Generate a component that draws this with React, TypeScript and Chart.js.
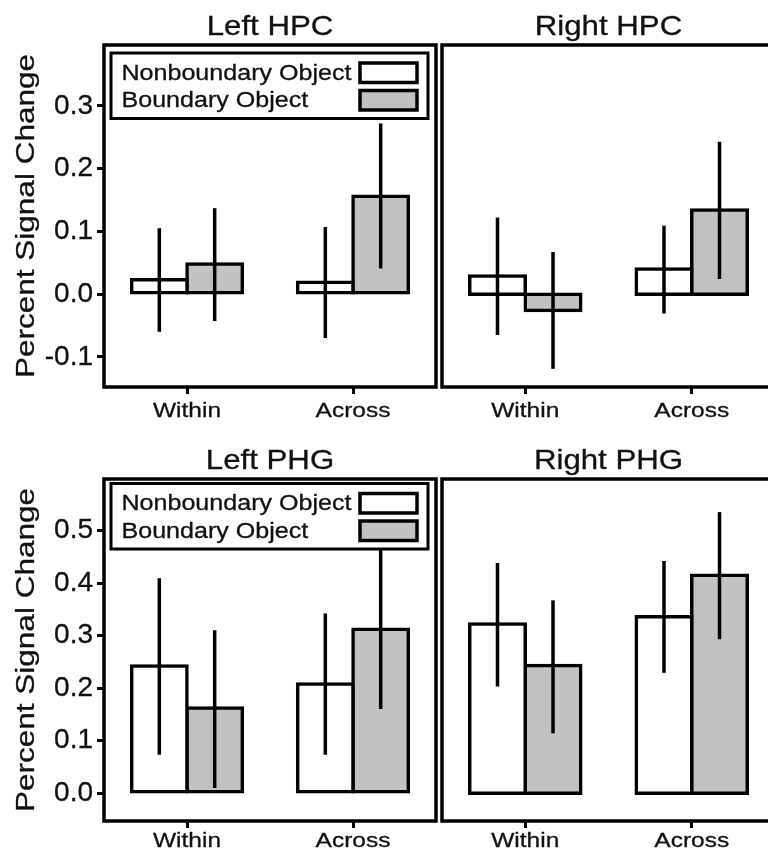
import React, { useEffect, useRef } from "react";
import { Chart, registerables } from "chart.js";

Chart.register(...registerables);

// ---------------- data ----------------
const categories = ["Within", "Across"];
const seriesNames = ["Nonboundary Object", "Boundary Object"];

const hpcTicks = [-0.1, 0.0, 0.1, 0.2, 0.3];
const phgTicks = [0.0, 0.1, 0.2, 0.3, 0.4, 0.5];

const leftHpcNon = [0.023, 0.019];
const leftHpcNonLo = [-0.06, -0.07];
const leftHpcNonHi = [0.105, 0.107];
const leftHpcBound = [0.048, 0.156];
const leftHpcBoundLo = [-0.043, 0.041];
const leftHpcBoundHi = [0.137, 0.272];

const rightHpcNon = [0.029, 0.04];
const rightHpcNonLo = [-0.065, -0.031];
const rightHpcNonHi = [0.122, 0.109];
const rightHpcBound = [-0.026, 0.134];
const rightHpcBoundLo = [-0.119, 0.024];
const rightHpcBoundHi = [0.067, 0.243];

const leftPhgNon = [0.242, 0.208];
const leftPhgNonLo = [0.073, 0.073];
const leftPhgNonHi = [0.409, 0.342];
const leftPhgBound = [0.162, 0.312];
const leftPhgBoundLo = [0.01, 0.16];
const leftPhgBoundHi = [0.31, 0.47];

const rightPhgNon = [0.322, 0.336];
const rightPhgNonLo = [0.203, 0.229];
const rightPhgNonHi = [0.438, 0.442];
const rightPhgBound = [0.243, 0.415];
const rightPhgBoundLo = [0.114, 0.293];
const rightPhgBoundHi = [0.367, 0.535];

// ---------------- styling ----------------
const FONT = '"Liberation Sans", Arial, Helvetica, sans-serif';
const INK = "#111111";
const GRAY = "#c2c2c2";
const TEXT_STROKE = 0.3;
const LINE = 3.5;

function stretchedText(
  ctx: CanvasRenderingContext2D,
  text: string,
  x: number,
  y: number,
  size: number,
  sx: number,
  align: CanvasTextAlign
) {
  ctx.save();
  ctx.font = `${size}px ${FONT}`;
  ctx.fillStyle = INK;
  ctx.strokeStyle = INK;
  ctx.lineWidth = TEXT_STROKE;
  ctx.textAlign = align;
  ctx.textBaseline = "alphabetic";
  ctx.translate(x, y);
  ctx.scale(sx, 1);
  ctx.fillText(text, 0, 0);
  ctx.strokeText(text, 0, 0);
  ctx.restore();
}

const decorPlugin = {
  id: "decor",
  afterDatasetsDraw(chart: any) {
    const ctx: CanvasRenderingContext2D = chart.ctx;
    const y = chart.scales.y;
    ctx.save();
    ctx.strokeStyle = "#000";
    ctx.lineWidth = LINE;
    ctx.lineCap = "butt";
    chart.data.datasets.forEach((ds: any, i: number) => {
      const meta = chart.getDatasetMeta(i);
      meta.data.forEach((el: any, j: number) => {
        ctx.beginPath();
        ctx.moveTo(el.x, y.getPixelForValue(ds.errLo[j]));
        ctx.lineTo(el.x, y.getPixelForValue(ds.errHi[j]));
        ctx.stroke();
      });
    });
    ctx.restore();
  },
  afterDraw(chart: any, _args: any, opts: any) {
    const ctx: CanvasRenderingContext2D = chart.ctx;
    const a = chart.chartArea;
    const x = chart.scales.x;

    // panel box
    ctx.save();
    ctx.strokeStyle = "#000";
    ctx.lineWidth = LINE;
    ctx.strokeRect(a.left, a.top, a.right - a.left, a.bottom - a.top);
    ctx.restore();

    // title
    stretchedText(ctx, opts.title, (a.left + a.right) / 2, a.top - 10.5, 28, 1.115, "center");

    // x labels
    chart.data.labels.forEach((lab: string, i: number) => {
      stretchedText(ctx, lab, x.getPixelForValue(i), a.bottom + opts.xLabelOffset, 21, 1.166, "center");
    });

    // y title
    if (opts.yTitle) {
      ctx.save();
      ctx.font = `25px ${FONT}`;
      ctx.fillStyle = INK;
      ctx.strokeStyle = INK;
      ctx.lineWidth = TEXT_STROKE;
      ctx.textAlign = "center";
      ctx.textBaseline = "middle";
      ctx.translate(27.5, (a.top + a.bottom) / 2);
      ctx.rotate(-Math.PI / 2);
      ctx.scale(1.26, 1);
      ctx.fillText(opts.yTitle, 0, 0);
      ctx.strokeText(opts.yTitle, 0, 0);
      ctx.restore();
    }

    // legend
    if (opts.legend) {
      const lt = a.top + opts.legendOffset;
      const ll = a.left + 7;
      const lr = a.right - 8;
      ctx.save();
      ctx.fillStyle = "#fff";
      ctx.fillRect(ll, lt, lr - ll, 65.5);
      ctx.strokeStyle = "#000";
      ctx.lineWidth = 3;
      ctx.strokeRect(ll, lt, lr - ll, 65.5);
      const fills = ["#ffffff", GRAY];
      const swY = [10, 37.5];
      const txtY = [26.5, 54];
      chart.data.datasets.forEach((ds: any, i: number) => {
        stretchedText(ctx, ds.label, a.left + 17.5, lt + txtY[i], 21.5, 1.166, "left");
        ctx.fillStyle = fills[i];
        ctx.fillRect(a.left + 256, lt + swY[i], 57, 19.5);
        ctx.strokeStyle = "#000";
        ctx.lineWidth = 3.5;
        ctx.strokeRect(a.left + 256, lt + swY[i], 57, 19.5);
      });
      ctx.restore();
    }
  },
};

type PanelProps = {
  title: string;
  left: number;
  top: number;
  width: number;
  height: number;
  padTop: number;
  padLeft: number;
  padRight: number;
  showY: boolean;
  yWidth: number;
  xHeight: number;
  yMin: number;
  yMax: number;
  ticks: number[];
  non: number[];
  nonLo: number[];
  nonHi: number[];
  bound: number[];
  boundLo: number[];
  boundHi: number[];
  legend: boolean;
  legendOffset: number;
  xLabelOffset: number;
};

function Panel(p: PanelProps) {
  const ref = useRef<HTMLCanvasElement>(null);
  useEffect(() => {
    if (!ref.current) return;
    const barStyle = {
      borderColor: "#000000",
      borderWidth: LINE,
      borderSkipped: false,
      inflateAmount: LINE / 2,
      categoryPercentage: 0.667,
      barPercentage: 1.0,
    };
    const chart = new Chart(ref.current, {
      type: "bar",
      data: {
        labels: categories,
        datasets: [
          {
            label: seriesNames[0],
            data: p.non,
            errLo: p.nonLo,
            errHi: p.nonHi,
            backgroundColor: "#ffffff",
            ...barStyle,
          } as any,
          {
            label: seriesNames[1],
            data: p.bound,
            errLo: p.boundLo,
            errHi: p.boundHi,
            backgroundColor: GRAY,
            ...barStyle,
          } as any,
        ],
      },
      options: {
        responsive: false,
        maintainAspectRatio: false,
        animation: false,
        layout: { padding: { top: p.padTop, left: p.padLeft, right: p.padRight, bottom: 0 } },
        plugins: {
          legend: { display: false },
          title: { display: false },
          tooltip: { enabled: false },
          decor: {
            title: p.title,
            legend: p.legend,
            legendOffset: p.legendOffset,
            xLabelOffset: p.xLabelOffset,
            yTitle: p.showY ? "Percent Signal Change" : "",
          },
        } as any,
        scales: {
          x: {
            type: "category",
            offset: true,
            grid: {
              offset: false,
              drawOnChartArea: false,
              drawTicks: true,
              tickLength: 7,
              lineWidth: 3,
              color: "#000",
              tickColor: "#000",
            },
            border: { display: false },
            ticks: { display: false },
            afterFit: (s: any) => {
              s.height = p.xHeight;
            },
          },
          y: {
            display: p.showY,
            min: p.yMin,
            max: p.yMax,
            afterBuildTicks: (s: any) => {
              s.ticks = p.ticks.map((v) => ({ value: v }));
            },
            grid: {
              drawOnChartArea: false,
              drawTicks: true,
              tickLength: 7,
              lineWidth: 3,
              color: "#000",
              tickColor: "#000",
            },
            border: { display: false },
            ticks: {
              padding: 4,
              color: INK,
              textStrokeColor: INK,
              textStrokeWidth: TEXT_STROKE,
              autoSkip: false,
              font: { family: FONT, size: 28 },
              callback: (v: any) => Number(v).toFixed(1),
            },
            afterFit: (s: any) => {
              s.width = p.yWidth;
            },
          },
        } as any,
      },
      plugins: [decorPlugin as any],
    });
    return () => chart.destroy();
  }, []);
  return (
    <canvas
      ref={ref}
      width={p.width}
      height={p.height}
      style={{ position: "absolute", left: p.left, top: p.top, width: p.width, height: p.height }}
    />
  );
}

export default function App() {
  const hpcMin = -0.148;
  const hpcMax = 0.397;
  const phgMin = -0.053;
  const phgMax = 0.598;
  return (
    <div
      style={{
        position: "absolute",
        left: 0,
        top: 0,
        width: 768,
        height: 859,
        overflow: "hidden",
        background: "#fff",
      }}
    >
      <Panel
        title="Left HPC"
        left={0}
        top={0}
        width={440}
        height={430}
        padTop={45}
        padLeft={0}
        padRight={4}
        showY={true}
        yWidth={104}
        xHeight={43}
        yMin={hpcMin}
        yMax={hpcMax}
        ticks={hpcTicks}
        non={leftHpcNon}
        nonLo={leftHpcNonLo}
        nonHi={leftHpcNonHi}
        bound={leftHpcBound}
        boundLo={leftHpcBoundLo}
        boundHi={leftHpcBoundHi}
        legend={true}
        legendOffset={8}
        xLabelOffset={30}
      />
      <Panel
        title="Right HPC"
        left={440}
        top={0}
        width={340}
        height={430}
        padTop={45}
        padLeft={2}
        padRight={5}
        showY={false}
        yWidth={0}
        xHeight={43}
        yMin={hpcMin}
        yMax={hpcMax}
        ticks={hpcTicks}
        non={rightHpcNon}
        nonLo={rightHpcNonLo}
        nonHi={rightHpcNonHi}
        bound={rightHpcBound}
        boundLo={rightHpcBoundLo}
        boundHi={rightHpcBoundHi}
        legend={false}
        legendOffset={8}
        xLabelOffset={30}
      />
      <Panel
        title="Left PHG"
        left={0}
        top={430}
        width={440}
        height={429}
        padTop={49}
        padLeft={0}
        padRight={4}
        showY={true}
        yWidth={104}
        xHeight={38}
        yMin={phgMin}
        yMax={phgMax}
        ticks={phgTicks}
        non={leftPhgNon}
        nonLo={leftPhgNonLo}
        nonHi={leftPhgNonHi}
        bound={leftPhgBound}
        boundLo={leftPhgBoundLo}
        boundHi={leftPhgBoundHi}
        legend={true}
        legendOffset={4.5}
        xLabelOffset={26}
      />
      <Panel
        title="Right PHG"
        left={440}
        top={430}
        width={340}
        height={429}
        padTop={49}
        padLeft={2}
        padRight={5}
        showY={false}
        yWidth={0}
        xHeight={38}
        yMin={phgMin}
        yMax={phgMax}
        ticks={phgTicks}
        non={rightPhgNon}
        nonLo={rightPhgNonLo}
        nonHi={rightPhgNonHi}
        bound={rightPhgBound}
        boundLo={rightPhgBoundLo}
        boundHi={rightPhgBoundHi}
        legend={false}
        legendOffset={4.5}
        xLabelOffset={26}
      />
    </div>
  );
}
